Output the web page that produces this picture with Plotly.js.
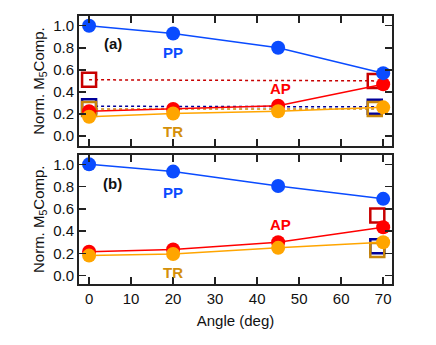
<!DOCTYPE html>
<html>
<head>
<meta charset="utf-8">
<script src="https://cdn.plot.ly/plotly-3.0.1.min.js"></script>
<style>
  body { margin: 0; background: #fff; }
  #chart { width: 436px; height: 345px; }
</style>
</head>
<body>
<div id="chart"></div>
<script>
// angles (deg)
const angles = [0, 20, 45, 70];

// panel (a)
const ppA = [1.0, 0.93, 0.80, 0.57];
const apA = [0.225, 0.245, 0.275, 0.47];
const trA = [0.175, 0.205, 0.225, 0.26];
// open squares in (a): endpoints joined by dotted lines
const sqAx = [0, 68];
const sqRedA = [0.51, 0.50];
const sqNavyA = [0.27, 0.265];
const sqGoldA = [0.245, 0.245];

// panel (b)
const ppB = [1.0, 0.935, 0.805, 0.69];
const apB = [0.215, 0.235, 0.30, 0.435];
const trB = [0.18, 0.195, 0.25, 0.30];
const sqBx = [68.6];
const sqRedB = [0.54];
const sqNavyB = [0.265];
const sqGoldB = [0.23];

const BLUE = '#0a4bff';
const RED = '#ff0000';
const ORANGE = '#ffa500';
const DKRED = '#c80000';
const NAVY = '#00009a';
const GOLD = '#c8860a';

function squares(x, y, col, xa, ya, dotted) {
  return {
    x: x, y: y, xaxis: xa, yaxis: ya,
    mode: dotted ? 'lines+markers' : 'markers',
    line: { color: col, width: 1.5, dash: 'dot' },
    marker: { symbol: 'square-open', size: 14, color: col, line: { width: 2.5, color: col } },
    hoverinfo: 'skip'
  };
}
function series(y, col, xa, ya) {
  return {
    x: angles, y: y, xaxis: xa, yaxis: ya, mode: 'lines+markers',
    line: { color: col, width: 1.5 },
    marker: { symbol: 'circle', size: 14, color: col }
  };
}

const traces = [
  squares(sqAx, sqRedA, DKRED, 'x2', 'y2', true),
  squares(sqAx, sqNavyA, NAVY, 'x2', 'y2', true),
  squares(sqAx, sqGoldA, GOLD, 'x2', 'y2', true),
  series(apA, RED, 'x2', 'y2'),
  series(trA, ORANGE, 'x2', 'y2'),
  series(ppA, BLUE, 'x2', 'y2'),

  squares(sqBx, sqRedB, DKRED, 'x', 'y', false),
  squares(sqBx, sqNavyB, NAVY, 'x', 'y', false),
  squares(sqBx, sqGoldB, GOLD, 'x', 'y', false),
  series(apB, RED, 'x', 'y'),
  series(trB, ORANGE, 'x', 'y'),
  series(ppB, BLUE, 'x', 'y')
];

const tickFont = { family: 'Liberation Sans, Arial, sans-serif', size: 15, color: '#111' };
const xCommon = {
  range: [-2.4, 72.1], dtick: 10, tick0: 0,
  ticks: 'inside', ticklen: 7, tickwidth: 1.5, tickcolor: '#222',
  showline: true, linewidth: 2, linecolor: '#222', mirror: 'ticks',
  showgrid: false, zeroline: false, tickfont: tickFont
};
const yCommon = {
  dtick: 0.2, tick0: 0, tickformat: '.1f',
  ticks: 'inside', ticklen: 7, tickwidth: 1.5, tickcolor: '#222',
  showline: true, linewidth: 2, linecolor: '#222', mirror: 'ticks',
  showgrid: false, zeroline: false, tickfont: tickFont,
  title: { text: 'Norm. M<sub>5</sub>Comp.', font: tickFont, standoff: 5 }
};

function lab(text, x, y, col, xa, ya) {
  return {
    text: '<b>' + text + '</b>', x: x, y: y, xref: xa, yref: ya,
    showarrow: false, font: { family: 'Liberation Sans, Arial, sans-serif', size: 15, color: col }
  };
}

const layout = {
  width: 436, height: 345,
  margin: { l: 79, r: 44, t: 16, b: 61 },
  paper_bgcolor: '#fff', plot_bgcolor: '#fff',
  showlegend: false,
  xaxis: Object.assign({}, xCommon, {
    anchor: 'y',
    title: { text: 'Angle (deg)', font: tickFont, standoff: 9 }
  }),
  yaxis: Object.assign({}, yCommon, { domain: [0, 0.483], range: [-0.075, 1.088] }),
  xaxis2: Object.assign({}, xCommon, { anchor: 'y2', showticklabels: false }),
  yaxis2: Object.assign({}, yCommon, { domain: [0.515, 1], range: [-0.09, 1.088] }),
  annotations: [
    lab('(a)', 5.6, 0.84, '#111', 'x2', 'y2'),
    lab('PP', 20, 0.76, BLUE, 'x2', 'y2'),
    lab('AP', 45.5, 0.43, RED, 'x2', 'y2'),
    lab('TR', 20, 0.045, '#d4900a', 'x2', 'y2'),
    lab('(b)', 5.6, 0.83, '#111', 'x', 'y'),
    lab('PP', 20, 0.75, BLUE, 'x', 'y'),
    lab('AP', 45.5, 0.46, RED, 'x', 'y'),
    lab('TR', 20, 0.03, '#d4900a', 'x', 'y')
  ]
};

Plotly.newPlot('chart', traces, layout, { displayModeBar: false, staticPlot: true });
</script>
</body>
</html>
